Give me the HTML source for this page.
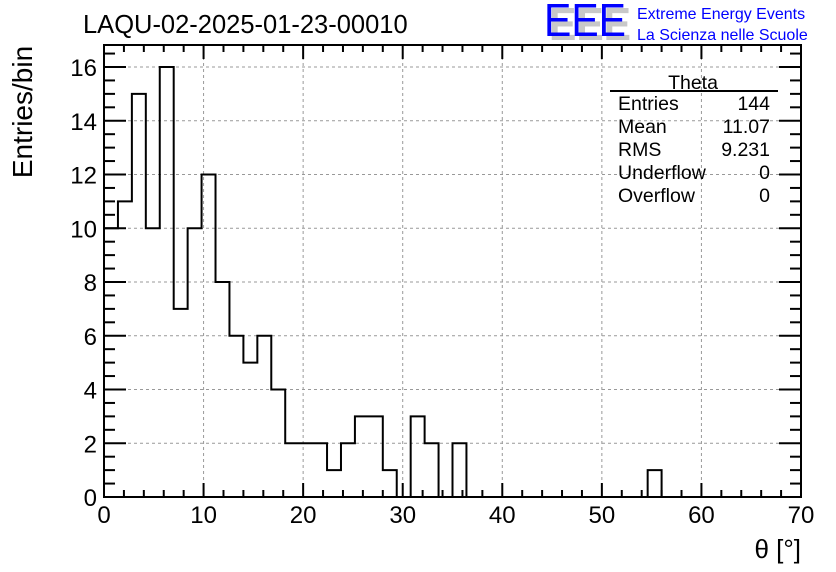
<!DOCTYPE html>
<html><head><meta charset="utf-8"><style>
html,body{margin:0;padding:0;background:#fff;}
svg{display:block;font-family:"Liberation Sans",Arial,sans-serif;}
</style></head><body>
<svg id="c" width="836" height="572" viewBox="0 0 836 572">
<rect width="836" height="572" fill="#fff"/>
<g id="grid"></g>
<g id="hist"></g>
<g id="axes"></g>
<text x="83" y="33" font-size="25.5">LAQU-02-2025-01-23-00010</text>
<text transform="translate(32,112) rotate(-90)" text-anchor="middle" font-size="28">Entries/bin</text>
<text x="801" y="558" text-anchor="end" font-size="26">θ [°]</text>
<g>
<text x="549" y="40" font-size="46" fill="#c8c8c8" font-weight="bold" textLength="82" lengthAdjust="spacingAndGlyphs">EEE</text>
<text x="544" y="36" font-size="46" fill="#0000ff" textLength="82" lengthAdjust="spacingAndGlyphs">EEE</text>
<text x="637" y="19" font-size="16" fill="#0000ff">Extreme Energy Events</text>
<text x="637" y="40" font-size="16" fill="#0000ff">La Scienza nelle Scuole</text>
</g>
<g id="stats" font-size="19.5">
<text x="693" y="89" text-anchor="middle">Theta</text>
<line x1="610" y1="91" x2="778" y2="91" stroke="#000" stroke-width="2"/>
</g>
</svg>
<script>
const binEdgesStart = 0;
const binWidth = 1.4;
const counts = [10,11,15,10,16,7,10,12,8,6,5,6,4,2,2,2,1,2,3,3,1,0,3,2,0,2,0,0,0,0,0,0,0,0,0,0,0,0,0,1,0,0,0,0,0,0,0,0,0,0];
const xTicks = [0,10,20,30,40,50,60,70];
const yTicks = [0,2,4,6,8,10,12,14,16];
const statLabels = ["Entries","Mean","RMS","Underflow","Overflow"];
const statValues = ["144","11.07","9.231","0","0"];

const L=104,R=801,T=45,B=497,XMAX=70,YMAX=(497-45)/26.875;
const X=v=>L+(v/XMAX)*(R-L);
const Y=v=>B-(v/YMAX)*(B-T);
const NS="http://www.w3.org/2000/svg";
function mk(tag,attrs,parent){const e=document.createElementNS(NS,tag);for(const k in attrs)e.setAttribute(k,attrs[k]);parent.appendChild(e);return e;}
const grid=document.getElementById('grid'),axes=document.getElementById('axes'),hist=document.getElementById('hist'),stats=document.getElementById('stats');
const svg=document.getElementById('c');
xTicks.forEach(t=>{if(t>0&&t<XMAX){const l=mk('line',{x1:X(t),x2:X(t),y1:T,y2:B,stroke:'#999','stroke-dasharray':'3,3','stroke-width':1},grid);

}});
yTicks.forEach(t=>{if(t>0){const l=mk('line',{x1:L,x2:R,y1:Y(t),y2:Y(t),stroke:'#999','stroke-dasharray':'3,3','stroke-width':1},grid);

}});
let d='M'+X(binEdgesStart)+','+Y(0);
counts.forEach((c,i)=>{const x0=X(binEdgesStart+i*binWidth),x1=X(binEdgesStart+(i+1)*binWidth);d+=' L'+x0+','+Y(c)+' L'+x1+','+Y(c);});
d+=' L'+X(binEdgesStart+counts.length*binWidth)+','+Y(0);
const p=mk('path',{d:d,fill:'none',stroke:'#000','stroke-width':2},hist);


const fr=mk('rect',{x:L,y:T,width:R-L,height:B-T,fill:'none',stroke:'#000','stroke-width':2},axes);


for(let v=0;v<=XMAX+1e-9;v+=2){const major=Math.abs(v%10)<1e-9;const len=major?14:7;
mk('line',{x1:X(v),x2:X(v),y1:B,y2:B-len,stroke:'#000','stroke-width':2},axes);
mk('line',{x1:X(v),x2:X(v),y1:T,y2:T+len,stroke:'#000','stroke-width':2},axes);}
xTicks.forEach(t=>{const tx=mk('text',{x:X(t),y:523,'text-anchor':'middle','font-size':24},svg);tx.textContent=t;

});
for(let v=0;v<=YMAX;v+=0.5){const major=Math.abs(v%2)<1e-9;const len=major?22:11;
mk('line',{x1:L,x2:L+len,y1:Y(v),y2:Y(v),stroke:'#000','stroke-width':2},axes);
mk('line',{x1:R,x2:R-len,y1:Y(v),y2:Y(v),stroke:'#000','stroke-width':2},axes);}
yTicks.forEach(t=>{const tx=mk('text',{x:97,y:Y(t)+9,'text-anchor':'end','font-size':24},svg);tx.textContent=t;

});
statLabels.forEach((s,i)=>{const y=110+i*23;
const a=mk('text',{x:618,y:y},stats);a.textContent=s;


const b=mk('text',{x:770,y:y,'text-anchor':'end'},stats);b.textContent=statValues[i];

});
</script>
</body></html>
